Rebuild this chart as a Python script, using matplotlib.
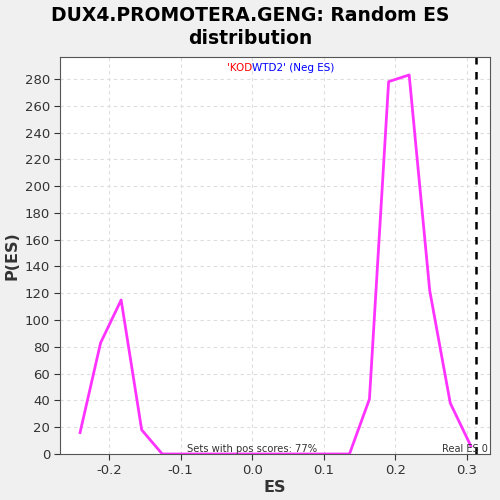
import numpy as np
import matplotlib
matplotlib.use("Agg")
import matplotlib.pyplot as plt

# random ES distribution (bin centres and densities)
es_values = [-0.2406, -0.2119, -0.1832, -0.1545, -0.1258, -0.0971, -0.0684,
             -0.0397, -0.0110, 0.0177, 0.0464, 0.0751, 0.1038, 0.1357,
             0.1636, 0.1904, 0.2191, 0.2478, 0.2765, 0.3052]
p_es = [16, 83, 115, 18, 0, 0, 0, 0, 0, 0, 0, 0, 0, 0,
        41, 278, 283, 122, 38, 6]
real_es = 0.3126
y_ticks = list(range(0, 281, 20))
x_ticks = [-0.2, -0.1, 0.0, 0.1, 0.2, 0.3]

fig = plt.figure(figsize=(5, 5), dpi=100, facecolor="#f0f0f0")
ax = fig.add_axes([0.12, 0.092, 0.86, 0.794])
ax.set_facecolor("white")

ax.plot(es_values, p_es, color="#ff33ff", linewidth=2)
ax.axvline(real_es, color="black", linestyle=(0, (3, 3)), linewidth=1.8)

ax.set_xlim(-0.2686, 0.332)
ax.set_ylim(0, 296.4)
ax.set_xticks(x_ticks)
ax.set_xticklabels(["-0.2", "-0.1", "0.0", "0.1", "0.2", "0.3"])
ax.set_yticks(y_ticks)
ax.tick_params(labelsize=9.5, colors="#333333", length=4, pad=3)
ax.grid(True, color="#dddddd", linestyle=(0, (3, 3)), linewidth=0.8)
for spine in ax.spines.values():
    spine.set_color("#555555")

ax.set_xlabel("ES", fontsize=11.5, fontweight="bold", color="#333333",
              labelpad=2)
ax.set_ylabel("P(ES)", fontsize=11.5, fontweight="bold", color="#333333",
              labelpad=4)
fig.suptitle("DUX4.PROMOTERA.GENG: Random ES\ndistribution", fontsize=13.5,
             fontweight="bold", y=0.988, linespacing=1.25)

ax.text(0.447, 0.985, "'KOD", color="red", fontsize=7.5, ha="right", va="top",
        transform=ax.transAxes)
ax.text(0.447, 0.985, "WTD2' (Neg ES)", color="blue", fontsize=7.5, ha="left",
        va="top", transform=ax.transAxes)
ax.text(0.447, 0.0, "Sets with pos scores: 77%", fontsize=7.2, color="#333333",
        ha="center", va="bottom", transform=ax.transAxes)
ax.text(0.995, 0.0, "Real ES 0", fontsize=7, color="#333333",
        ha="right", va="bottom", transform=ax.transAxes)

fig.savefig("out.png", dpi=100, facecolor=fig.get_facecolor())
